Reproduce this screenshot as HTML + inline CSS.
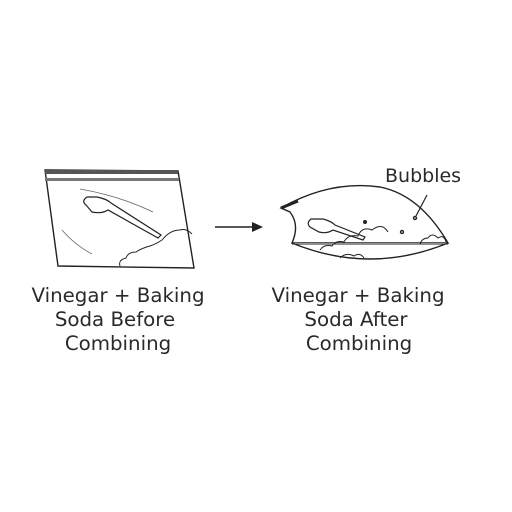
<!DOCTYPE html>
<html><head><meta charset="utf-8"><style>
body{margin:0;background:#fff;width:512px;height:512px;overflow:hidden}
svg{display:block}
text{font-family:"DejaVu Sans","Liberation Sans",sans-serif;fill:#2a2a2a}
</style></head><body>
<svg width="512" height="512" viewBox="0 0 512 512">
<g fill="none" stroke="#222" stroke-width="1.4">
<polygon points="45,170 178,171 194,268 58,266" fill="#fff"/>
<rect x="45" y="170" width="133" height="4" fill="#555" stroke="none"/>
<rect x="45" y="178" width="134" height="3" fill="#777" stroke="none"/>
<path d="M80,189 Q120,196 153,212" stroke="#666" stroke-width="0.8"/>
<path d="M62,230 Q75,245 92,254" stroke="#666" stroke-width="0.8"/>
<path d="M86,205 q-5,-4 1,-8 l10,0 q10,2 14,6 l50,32 l-3,3 l-50,-28 q-6,4 -16,2 z" stroke-width="1.2"/>
<path d="M120,266 q-2,-6 6,-8 q2,-6 10,-6 q6,-4 14,-6 q6,-2 12,-6 q8,-10 18,-10 q6,-2 12,4" stroke-width="1"/>
</g>
<g>
<line x1="215" y1="227" x2="254" y2="227" stroke="#222" stroke-width="1.5"/>
<polygon points="252,222 263,227 252,232" fill="#222"/>
</g>
<g fill="none" stroke="#222" stroke-width="1.4">
<path d="M281,208 Q330,180 380,187 Q420,195 448,243 L292,243 Q300,225 290,212 Z" fill="#fff"/>
<path d="M292,243 Q370,275 448,243" fill="#fff"/>
<line x1="292" y1="244" x2="448" y2="244" stroke-width="1"/>
<path d="M281,208 L298,201" stroke-width="3"/>
<path d="M310,227 q-4,-4 1,-8 l12,0 q8,2 12,6 l30,12 l-2,3 l-30,-10 q-6,4 -14,2 z" stroke-width="1.2"/>
<path d="M320,250 q4,-6 12,-4 q4,-6 12,-4 q4,-8 14,-6 q4,-10 14,-6 q10,-8 16,2 M420,244 q2,-6 8,-6 q4,-6 10,0 q6,-4 8,4 M340,258 q6,-6 14,-2 q6,-4 10,2" stroke-width="1"/>
<circle cx="365" cy="222" r="1.3" fill="#222"/>
<circle cx="402" cy="232" r="1.5"/>
<circle cx="415" cy="218" r="1.5"/>
<line x1="427" y1="195" x2="416" y2="216" stroke-width="1.2"/>
</g>
<text x="385" y="182" font-size="19">Bubbles</text>
<g font-size="19.8" text-anchor="middle">
<text x="118" y="302">Vinegar + Baking</text>
<text x="115" y="326">Soda Before</text>
<text x="118" y="350">Combining</text>
</g>
<g font-size="19.8" text-anchor="middle">
<text x="358" y="302">Vinegar + Baking</text>
<text x="356" y="326">Soda After</text>
<text x="359" y="350">Combining</text>
</g>
</svg>
</body></html>
